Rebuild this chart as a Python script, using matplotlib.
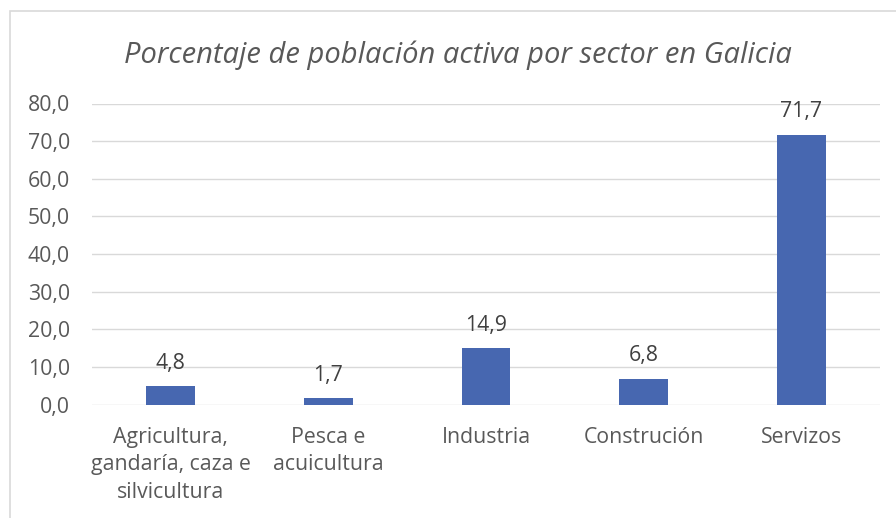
import matplotlib.pyplot as plt
from matplotlib.patches import Rectangle

# data
sectors = ["Agricultura,\ngandaría, caza e\nsilvicultura", "Pesca e\nacuicultura",
           "Industria", "Construción", "Servizos"]
values = [4.8, 1.7, 14.9, 6.8, 71.7]
yticks = [0, 10, 20, 30, 40, 50, 60, 70, 80]

plt.rcParams['font.family'] = ['Open Sans', 'DejaVu Sans']
text_color = "#595959"

fig = plt.figure(figsize=(8.96, 5.18), dpi=100)
ax = fig.add_axes([92 / 896, 1 - 404.5 / 518, 788 / 896, 301 / 518])

x = range(len(values))
bars = ax.bar(x, values, width=0.31, color="#4767b0", zorder=3)

# value labels above bars
for b, v in zip(bars, values):
    ax.annotate(f"{v:.1f}".replace(".", ","), (b.get_x() + b.get_width() / 2, v),
                xytext=(0, 9), textcoords="offset points", ha="center", va="bottom",
                fontsize=15.3, color="#404040")

ax.set_xlim(-0.5, len(values) - 0.5)
ax.set_ylim(0, 80)
ax.set_yticks(yticks)
ax.set_yticklabels([f"{t:.1f}".replace(".", ",") for t in yticks])
ax.set_xticks(list(x))
ax.set_xticklabels(sectors, linespacing=1.4)
ax.tick_params(axis="both", length=0, labelsize=15.3, labelcolor=text_color)
ax.tick_params(axis="x", pad=16)
ax.tick_params(axis="y", pad=16)
ax.grid(axis="y", color="#d9d9d9", linewidth=1, zorder=0)
for s in ax.spines.values():
    s.set_visible(False)

fig.text(458 / 896, 1 - 55 / 518, "Porcentaje de población activa por sector en Galicia",
         fontsize=21, style="italic", color=text_color, ha="center", va="center")

# chart area border
fig.patches.append(Rectangle((10 / 896, -0.1), 1.0, 0.1 + 1 - 11 / 518,
                             transform=fig.transFigure, fill=False,
                             edgecolor="#d9d9d9", linewidth=1.2))

fig.savefig("out.png", dpi=100)
